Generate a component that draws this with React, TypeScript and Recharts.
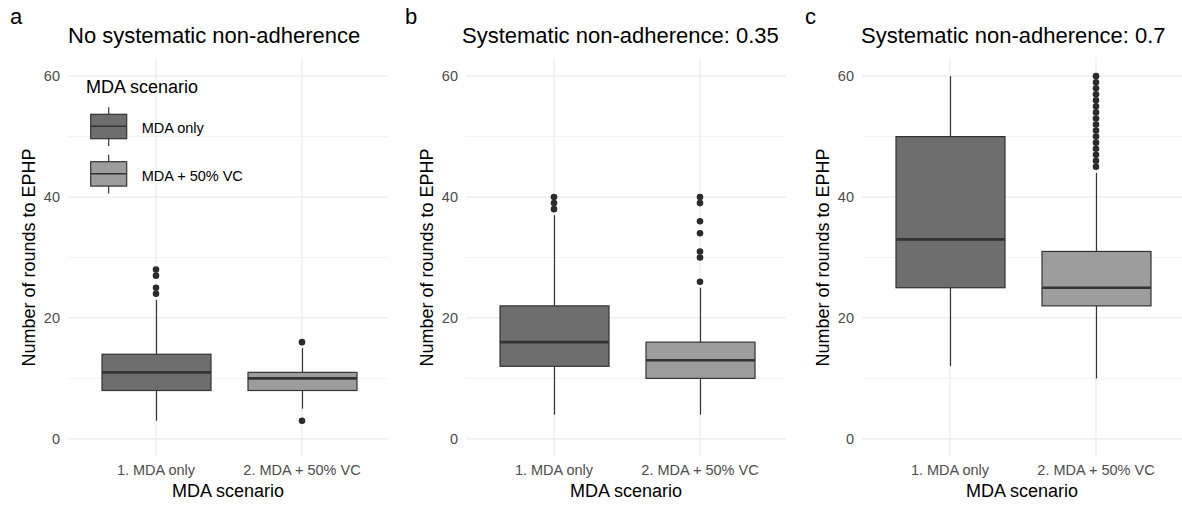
import React from "react";
import {
  ComposedChart,
  Bar,
  Scatter,
  XAxis,
  YAxis,
  CartesianGrid,
  Legend,
  Label,
} from "recharts";

// categories and labels
const categories = ["1. MDA only", "2. MDA + 50% VC"];
const legendLabels = ["MDA only", "MDA + 50% VC"];
const panelTags = ["a", "b", "c"];
const panelTitles = [
  "No systematic non-adherence",
  "Systematic non-adherence: 0.35",
  "Systematic non-adherence: 0.7",
];
const yTicks = [0, 20, 40, 60];
const minorTicks = [10, 30, 50];

// box stats, one row per panel, one value per category
const whiskerLow = [[3, 5], [4, 4], [12, 10]];
const boxQ1 = [[8, 8], [12, 10], [25, 22]];
const boxMedian = [[11, 10], [16, 13], [33, 25]];
const boxQ3 = [[14, 11], [22, 16], [50, 31]];
const whiskerHigh = [[23, 15], [37, 25], [60, 44]];
const outliers = [
  [[24, 25, 27, 28], [3, 16]],
  [[38, 39, 40], [26, 30, 31, 34, 36, 39, 40]],
  [[], [45, 46, 47, 48, 49, 50, 51, 52, 53, 54, 55, 56, 57, 58, 59, 60]],
];

const FONT = '"Liberation Sans", Arial, Helvetica, sans-serif';
const fills = ["#6e6e6e", "#9d9d9d"];
const INK = "#333333";
const GRID = "#ebebeb";
const panelLefts = [0, 398, 794];
const titleLefts = [68, 462, 861];
const tagLefts = [10, 405, 805];

const BoxShape = (props: any) => {
  const { x, y, width, height, payload } = props;
  const [lo, hi] = payload.range;
  const top = Math.min(y, y + height);
  const h = Math.abs(height);
  const py = (v: number) => top + (h * (hi - v)) / (hi - lo);
  const cx = x + width / 2;
  return (
    <g>
      <line x1={cx} x2={cx} y1={py(hi)} y2={py(lo)} stroke={INK} strokeWidth={1.2} />
      <rect
        x={x}
        y={py(payload.q3)}
        width={width}
        height={py(payload.q1) - py(payload.q3)}
        fill={payload.fill}
        stroke={INK}
        strokeWidth={1.2}
      />
      <line
        x1={x}
        x2={x + width}
        y1={py(payload.median)}
        y2={py(payload.median)}
        stroke={INK}
        strokeWidth={2.6}
      />
    </g>
  );
};

const Dot = (props: any) => <circle cx={props.cx} cy={props.cy} r={3.3} fill="#2b2b2b" />;

// grid lines without the frame at the plot edges
const gridLine = (w: number) => (p: any) => {
  const onEdge =
    (p.x1 === p.x2 && (Math.abs(p.x1 - p.x) < 0.5 || Math.abs(p.x1 - (p.x + p.width)) < 0.5)) ||
    (p.y1 === p.y2 && (Math.abs(p.y1 - p.y) < 0.5 || Math.abs(p.y1 - (p.y + p.height)) < 0.5));
  if (onEdge) return <g key={p.key} />;
  return <line key={p.key} x1={p.x1} x2={p.x2} y1={p.y1} y2={p.y2} stroke={GRID} strokeWidth={w} />;
};

const YTitle = (props: any) => {
  const vb = props.viewBox;
  const cx = vb.x + 29;
  const cy = vb.y + vb.height / 2;
  return (
    <text
      x={cx}
      y={cy}
      dy="0.355em"
      transform={`rotate(-90, ${cx}, ${cy})`}
      textAnchor="middle"
      fontSize={18}
      fill="#000"
    >
      Number of rounds to EPHP
    </text>
  );
};

const LegendBox = () => (
  <svg width={180} height={130} style={{ overflow: "visible" }}>
    <text x={6} y={22.7} fontSize={18} fill="#000">
      MDA scenario
    </text>
    {legendLabels.map((lab, i) => {
      const c = 56.3 + i * 47.4;
      return (
        <g key={lab}>
          <line x1={28.7} x2={28.7} y1={c - 19} y2={c + 19.7} stroke={INK} strokeWidth={1.2} />
          <rect x={10.7} y={c - 12} width={36} height={24.4} fill={fills[i]} stroke={INK} strokeWidth={1.2} />
          <line x1={10.7} x2={46.7} y1={c} y2={c} stroke={INK} strokeWidth={1.6} />
          <text x={61.7} y={c + 2} dy="0.355em" fontSize={14.5} fill="#000">
            {lab}
          </text>
        </g>
      );
    })}
  </svg>
);

const Panel = ({ idx }: { idx: number }) => {
  const rows = categories.map((name, i) => ({
    name,
    range: [whiskerLow[idx][i], whiskerHigh[idx][i]],
    q1: boxQ1[idx][i],
    median: boxMedian[idx][i],
    q3: boxQ3[idx][i],
    fill: fills[i],
  }));
  const points = categories.flatMap((name, i) =>
    outliers[idx][i].map((v) => ({ name, value: v }))
  );
  return (
    <div style={{ position: "absolute", left: panelLefts[idx], top: 0 }}>
      <ComposedChart
        width={388}
        height={507}
        data={rows}
        margin={{ top: 58, right: 0, bottom: 0, left: 0 }}
      >
        <CartesianGrid
          vertical={false}
          horizontalValues={minorTicks}
          horizontal={gridLine(0.6)}
        />
        <CartesianGrid horizontal={gridLine(1.2)} vertical={gridLine(1.2)} />
        <XAxis
          dataKey="name"
          type="category"
          allowDuplicatedCategory={false}
          padding={{ left: 15, right: 13 }}
          axisLine={false}
          tickLine={false}
          interval={0}
          height={50}
          tick={{ fill: "#4d4d4d", fontSize: 14.5 }}
        >
          <Label value="MDA scenario" position="insideBottom" offset={10} fill="#000" fontSize={18} />
        </XAxis>
        <YAxis
          type="number"
          domain={[-3, 63]}
          ticks={yTicks}
          interval={0}
          axisLine={false}
          tickLine={false}
          width={68}
          tick={{ fill: "#4d4d4d", fontSize: 14.5 }}
        >
          <Label content={YTitle} />
        </YAxis>
        <Bar dataKey="range" barSize={109} shape={BoxShape} isAnimationActive={false} />
        <Scatter data={points} dataKey="value" shape={Dot} isAnimationActive={false} />
        {idx === 0 && (
          <Legend
            layout="vertical"
            align="center"
            verticalAlign="middle"
            content={LegendBox}
            wrapperStyle={{ left: 80, top: 70, width: 180, height: 130 }}
          />
        )}
      </ComposedChart>
    </div>
  );
};

export default function App() {
  return (
    <div
      style={{
        position: "absolute",
        left: 0,
        top: 0,
        width: 1182,
        height: 507,
        background: "#fff",
        overflow: "hidden",
        fontFamily: FONT,
      }}
    >
      {[0, 1, 2].map((i) => (
        <Panel key={i} idx={i} />
      ))}
      {panelTags.map((t, i) => (
        <div
          key={t}
          style={{ position: "absolute", left: tagLefts[i], top: 6.4, fontSize: 22, lineHeight: "22px" }}
        >
          {t}
        </div>
      ))}
      {panelTitles.map((t, i) => (
        <div
          key={t}
          style={{
            position: "absolute",
            left: titleLefts[i],
            top: 25.4,
            fontSize: 22,
            lineHeight: "22px",
            whiteSpace: "nowrap",
          }}
        >
          {t}
        </div>
      ))}
    </div>
  );
}
